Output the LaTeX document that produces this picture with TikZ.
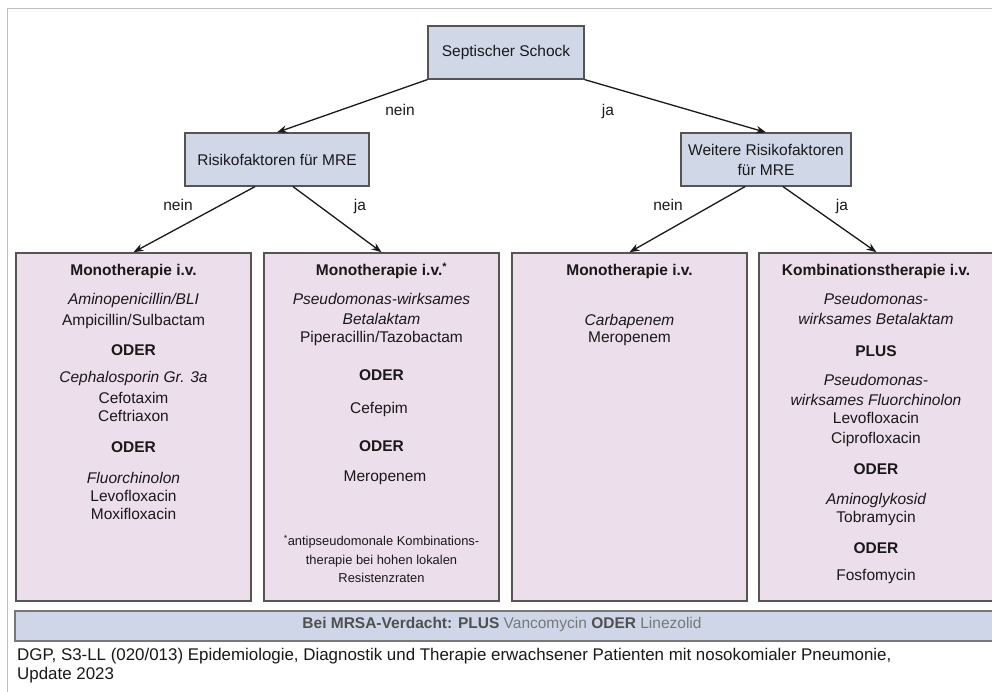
\documentclass[tikz,border=0pt]{standalone}
\usepackage{fontspec}
\setmainfont{Liberation Sans}
\usetikzlibrary{arrows.meta}
\definecolor{bluebox}{RGB}{208,216,232}
\definecolor{pinkbox}{RGB}{237,222,236}
\definecolor{edgec}{RGB}{85,85,85}
\definecolor{txt}{RGB}{25,25,25}
\definecolor{framec}{RGB}{190,190,190}
\definecolor{mrsafill}{RGB}{206,214,232}
\definecolor{mrsaedge}{RGB}{120,120,120}
\definecolor{mrsadark}{RGB}{80,80,80}
\definecolor{mrsalight}{RGB}{120,120,120}
\begin{document}
\begin{tikzpicture}[x=1pt,y=-1pt,
  decision/.style={draw=edgec, fill=bluebox, line width=1.2pt, inner sep=0pt, text=txt,
    font=\fontsize{15.5}{20}\selectfont, align=center},
  therapy/.style={draw=edgec, fill=pinkbox, line width=1.6pt, inner sep=0pt},
  arr/.style={-{Stealth[length=10pt,width=7.5pt]}, line width=1.3pt, black!90},
  lbl/.style={font=\fontsize{15.5}{18}\selectfont, text=txt, anchor=mid, inner sep=0pt},
  bf/.style={lbl, font=\fontsize{15.5}{18}\selectfont\bfseries},
  it/.style={lbl, font=\fontsize{15.5}{18}\selectfont\itshape},
  sm/.style={lbl, font=\fontsize{12.9}{15}\selectfont},
]
\clip (0,0) rectangle (992,691);
\fill[white] (0,0) rectangle (992,691);
% outer frame
\draw[framec, line width=1pt] (7,700) -- (7,8) -- (1000,8);

% decision nodes
\node[decision, minimum width=156pt, minimum height=53pt] (sch) at (506,52.5) {Septischer Schock};
\node[decision, minimum width=184pt, minimum height=53pt] (r1) at (277,159.5) {Risikofaktoren für MRE};
\node[decision, minimum width=170pt, minimum height=53pt] (r2) at (766,159.5) {Weitere Risikofaktoren\\für MRE};

% therapy boxes
\node[therapy, minimum width=235pt, minimum height=348pt] (b1) at (133.5,427) {};
\node[therapy, minimum width=235pt, minimum height=348pt] (b2) at (381.5,427) {};
\node[therapy, minimum width=235pt, minimum height=348pt] (b3) at (629.5,427) {};
\node[therapy, minimum width=235pt, minimum height=348pt] (b4) at (876.5,427) {};

% arrows
\draw[arr] (sch.south west) -- (r1.north);
\draw[arr] (sch.south east) -- (r2.north);
\draw[arr] ([xshift=-22pt]r1.south) -- (b1.north);
\draw[arr] ([xshift=16pt]r1.south) -- (b2.north);
\draw[arr] ([xshift=-21pt]r2.south) -- (b3.north);
\draw[arr] ([xshift=17pt]r2.south) -- (b4.north);

% arrow labels
\node[lbl] (l1) at (400,113) {nein};
\node[lbl] (l2) at (608,113) {ja};
\node[lbl] (l3) at (178,208) {nein};
\node[lbl] (l4) at (360,208) {ja};
\node[lbl] (l5) at (668,208) {nein};
\node[lbl] (l6) at (842,208) {ja};

% box 1
\node[bf] (b1t1) at (133.5,273) {Monotherapie i.v.};
\node[it] (b1t2) at (133.5,302) {Aminopenicillin/BLI};
\node[lbl] (b1t3) at (133.5,323) {Ampicillin/Sulbactam};
\node[bf] (b1t4) at (133.5,353) {ODER};
\node[it] (b1t5) at (133.5,380) {Cephalosporin Gr. 3a};
\node[lbl] (b1t6) at (133.5,401) {Cefotaxim};
\node[lbl] (b1t7) at (133.5,419) {Ceftriaxon};
\node[bf] (b1t8) at (133.5,450) {ODER};
\node[it] (b1t9) at (133.5,481) {Fluorchinolon};
\node[lbl] (b1t10) at (133.5,499) {Levofloxacin};
\node[lbl] (b1t11) at (133.5,517) {Moxifloxacin};

% box 2
\node[bf] (b2t1) at (381.5,273) {Monotherapie i.v.\textsuperscript{*}};
\node[it] (b2t2) at (381.5,302) {Pseudomonas-wirksames};
\node[it] (b2t3) at (381.5,322) {Betalaktam};
\node[lbl] (b2t4) at (381.5,340) {Piperacillin/Tazobactam};
\node[bf] (b2t5) at (381.5,378) {ODER};
\node[lbl] (b2t6) at (379,411) {Cefepim};
\node[bf] (b2t7) at (381.5,449) {ODER};
\node[lbl] (b2t8) at (385,479) {Meropenem};
\node[sm] (b2t9) at (381.5,543) {\textsuperscript{*}antipseudomonale Kombinations-};
\node[sm] (b2t10) at (381.5,562) {therapie bei hohen lokalen};
\node[sm] (b2t11) at (381.5,580) {Resistenzraten};

% box 3
\node[bf] (b3t1) at (629.5,273) {Monotherapie i.v.};
\node[it] (b3t2) at (629.5,323) {Carbapenem};
\node[lbl] (b3t3) at (629.5,340) {Meropenem};

% box 4
\node[bf] (b4t1) at (876,273) {Kombinationstherapie i.v.};
\node[it] (b4t2) at (876,302) {Pseudomonas-};
\node[it] (b4t3) at (876,322) {wirksames Betalaktam};
\node[bf] (b4t4) at (876,354) {PLUS};
\node[it] (b4t5) at (876,383) {Pseudomonas-};
\node[it] (b4t6) at (876,403) {wirksames Fluorchinolon};
\node[lbl] (b4t7) at (876,421) {Levofloxacin};
\node[lbl] (b4t8) at (876,441) {Ciprofloxacin};
\node[bf] (b4t9) at (876,472) {ODER};
\node[it] (b4t10) at (876,502) {Aminoglykosid};
\node[lbl] (b4t11) at (876,520) {Tobramycin};
\node[bf] (b4t12) at (876,551) {ODER};
\node[lbl] (b4t13) at (876,578) {Fosfomycin};

% MRSA bar
\node[draw=mrsaedge, fill=mrsafill, line width=2pt, minimum width=985pt, minimum height=30pt, inner sep=0pt] (mrsa) at (507.5,626) {};
\node[lbl, font=\fontsize{15.5}{18}\selectfont] (mrsat) at (502,626)
  {\textcolor{mrsadark}{\bfseries Bei MRSA-Verdacht: PLUS} \textcolor{mrsalight}{Vancomycin} \textcolor{mrsadark}{\bfseries ODER} \textcolor{mrsalight}{Linezolid}};

% footer
\node[lbl, anchor=mid west, font=\fontsize{16.9}{19}\selectfont] (f1) at (17,658) {DGP, S3-LL (020/013) Epidemiologie, Diagnostik und Therapie erwachsener Patienten mit nosokomialer Pneumonie,};
\node[lbl, anchor=mid west, font=\fontsize{16.9}{19}\selectfont] (f2) at (17,677) {Update 2023};
\end{tikzpicture}
\end{document}
